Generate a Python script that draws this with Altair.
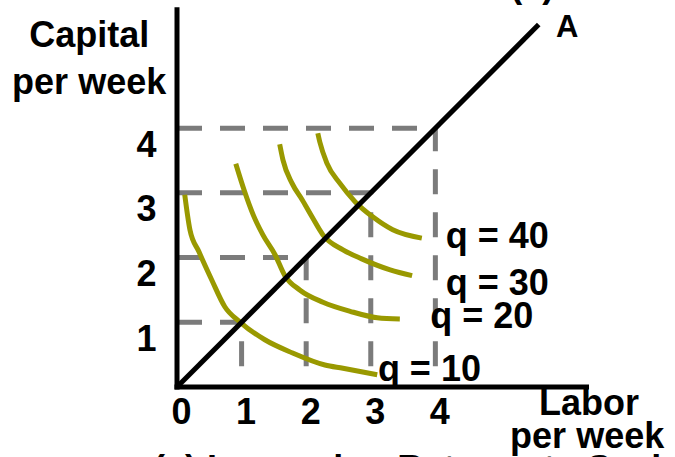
import altair as alt
import pandas as pd

# Isoquants: labor (L) and capital (K) per week along each output level
q10_L = [0.12, 0.20, 0.34, 0.54, 0.74, 0.98, 1.36, 1.78, 2.29, 2.57, 3.10]
q10_K = [2.97, 2.43, 2.09, 1.65, 1.24, 1.00, 0.73, 0.53, 0.34, 0.29, 0.19]

q20_L = [0.91, 1.04, 1.18, 1.33, 1.52, 1.67, 1.90, 2.26, 2.68, 3.10, 3.45]
q20_K = [3.45, 3.04, 2.66, 2.35, 2.04, 1.72, 1.50, 1.31, 1.17, 1.07, 1.05]

q30_L = [1.59, 1.64, 1.78, 1.94, 2.09, 2.26, 2.57, 2.86, 3.30, 3.64]
q30_K = [3.75, 3.51, 3.15, 2.89, 2.63, 2.35, 2.12, 1.98, 1.81, 1.72]

q40_L = [2.18, 2.21, 2.32, 2.52, 2.76, 3.03, 3.34, 3.79]
q40_K = [3.92, 3.79, 3.46, 3.15, 2.86, 2.63, 2.43, 2.30]

output_levels = [10, 20, 30, 40]
curve_L = [q10_L, q20_L, q30_L, q40_L]
curve_K = [q10_K, q20_K, q30_K, q40_K]

# Input bundles marked by the dashed guides
input_levels = [1, 2, 3, 4]

# Expansion path ray 0A
ray_end = 5.6

# Tick labels
x_ticks = [0, 1, 2, 3, 4]
y_ticks = [1, 2, 3, 4]

# Isoquant labels
q_labels = ["q = 10", "q = 20", "q = 30", "q = 40"]
q_label_L = [3.11, 3.92, 4.16, 4.16]
q_label_K = [0.09, 0.91, 1.42, 2.15]

FONT = "Liberation Sans"
OLIVE = "#999900"
GRAY = "#7b7b7b"

x_scale = alt.Scale(domain=[0, 7.71], nice=False, zero=False)
y_scale = alt.Scale(domain=[0, 5.98], nice=False, zero=False)

x_axis = alt.Axis(values=x_ticks, format="d", domain=False, ticks=False, tickSize=0, grid=False,
                  labelFont=FONT, labelFontSize=36, labelFontWeight="bold",
                  labelColor="black", labelPadding=25, labelBaseline="middle",
                  labelOffset=4, labelFlush=False, labelOverlap=False, title=None)
y_axis = alt.Axis(values=y_ticks, format="d", domain=False, ticks=False, tickSize=0, grid=False,
                  labelFont=FONT, labelFontSize=36, labelFontWeight="bold",
                  labelColor="black", labelPadding=21, labelOffset=17,
                  labelFlush=False, labelOverlap=False, title=None)

# Dashed guides
h_guides = pd.DataFrame({"x0": [0] * 4, "x1": input_levels,
                         "y0": input_levels, "y1": input_levels})
v_guides = pd.DataFrame({"x0": input_levels, "x1": input_levels,
                         "y0": [0.32] * 4, "y1": input_levels})

guide_style = dict(color=GRAY, strokeWidth=5, strokeDash=[25, 18])
h_layer = alt.Chart(h_guides).mark_rule(**guide_style).encode(
    x=alt.X("x0:Q", scale=x_scale, axis=x_axis), x2="x1:Q",
    y=alt.Y("y0:Q", scale=y_scale, axis=y_axis), y2="y1:Q")
v_layer = alt.Chart(v_guides).mark_rule(**guide_style).encode(
    x=alt.X("x0:Q", scale=x_scale), x2="x1:Q",
    y=alt.Y("y0:Q", scale=y_scale), y2="y1:Q")

# Isoquant curves
rows = []
for q, Ls, Ks in zip(output_levels, curve_L, curve_K):
    for i, (l, k) in enumerate(zip(Ls, Ks)):
        rows.append({"q": q, "i": i, "L": l, "K": k})
iso = pd.DataFrame(rows)
iso_layer = alt.Chart(iso).mark_line(color=OLIVE, strokeWidth=5, interpolate="monotone").encode(
    x=alt.X("L:Q", scale=x_scale), y=alt.Y("K:Q", scale=y_scale),
    detail="q:N", order="i:Q")

# Ray from origin through A
ray = pd.DataFrame({"x0": [0], "y0": [0], "x1": [ray_end], "y1": [ray_end]})
ray_layer = alt.Chart(ray).mark_rule(color="black", strokeWidth=5).encode(
    x=alt.X("x0:Q", scale=x_scale), x2="x1:Q",
    y=alt.Y("y0:Q", scale=y_scale), y2="y1:Q")

# Axis lines
axes = pd.DataFrame({"x0": [0, 0], "y0": [0, 0], "x1": [6.34, 0], "y1": [0, 5.83]})
axes_layer = alt.Chart(axes).mark_rule(color="black", strokeWidth=5, strokeCap="square").encode(
    x=alt.X("x0:Q", scale=x_scale), x2="x1:Q",
    y=alt.Y("y0:Q", scale=y_scale), y2="y1:Q")

# Text annotations
def text_layer(df, align, size=36):
    return alt.Chart(df).mark_text(font=FONT, fontSize=size, fontWeight="bold",
                                   color="black", align=align, baseline="alphabetic").encode(
        x=alt.X("L:Q", scale=x_scale), y=alt.Y("K:Q", scale=y_scale), text="t:N")

q_text = text_layer(pd.DataFrame({"t": q_labels, "L": q_label_L, "K": q_label_K}), "left")
titles = text_layer(pd.DataFrame({
    "t": ["Capital", "per week", "Labor", "per week", "(a)"],
    "L": [-1.36, -1.36, 6.38, 6.35, 5.50],
    "K": [5.25, 4.53, -0.43, -0.94, 6.03]}), "center")
a_text = text_layer(pd.DataFrame({"t": ["A"], "L": [6.04], "K": [5.41]}), "center", size=31)
caption = text_layer(pd.DataFrame({"t": ["(a) Increasing Returns to Scale"],
                                   "L": [-0.37], "K": [-1.45]}), "left")

chart = alt.layer(
    h_layer, v_layer, iso_layer, ray_layer, axes_layer,
    q_text, titles, a_text, caption
).properties(
    width=498, height=387,
    padding={"left": 177, "top": 0, "right": 0, "bottom": 70},
    autosize="none",
    background="white",
).configure_view(stroke=None)

chart.save("out.html", embed_options={"renderer": "svg", "actions": False})
